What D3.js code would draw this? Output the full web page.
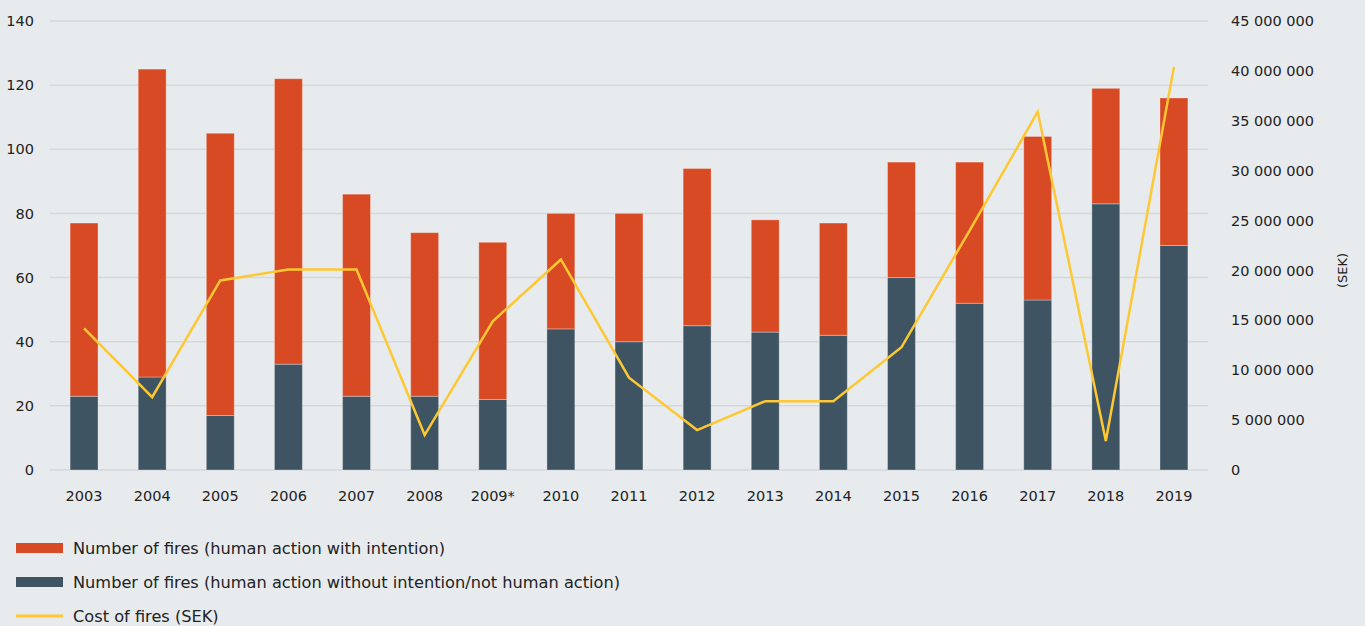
<!DOCTYPE html>
<html>
<head>
<meta charset="utf-8">
<script src="https://cdn.jsdelivr.net/npm/d3@7"></script>
<style>
  html, body { margin: 0; padding: 0; background: #e8ebee; }
  svg { display: block; font-family: "DejaVu Sans", sans-serif; }
</style>
</head>
<body>
<svg id="chart" width="1365" height="626"></svg>
<script>
// Fire statistics 2003–2019
const years = ["2003","2004","2005","2006","2007","2008","2009*","2010","2011","2012","2013","2014","2015","2016","2017","2018","2019"];
// Fires caused without intention or not by human action
const unintentional = [23, 29, 17, 33, 23, 23, 22, 44, 40, 45, 43, 42, 60, 52, 53, 83, 70];
// Fires caused by human action with intention
const intentional = [54, 96, 88, 89, 63, 51, 49, 36, 40, 49, 35, 35, 36, 44, 51, 36, 46];
// Cost of fires, SEK
const cost = [14200000, 7300000, 19000000, 20100000, 20100000, 3500000, 14900000, 21100000, 9250000, 4000000, 6900000, 6900000, 12300000, 24000000, 35900000, 2900000, 40400000];

const leftTicks = [0, 20, 40, 60, 80, 100, 120, 140];
const rightTicks = [0, 5e6, 10e6, 15e6, 20e6, 25e6, 30e6, 35e6, 40e6, 45e6];
const legendLabels = [
  "Number of fires (human action with intention)",
  "Number of fires (human action without intention/not human action)",
  "Cost of fires (SEK)"
];

const colors = { intentional: "#d84a23", unintentional: "#3f5463", cost: "#fdc832", grid: "#d4d8dc", text: "#222" };
const tickFont = 14.5;

const svg = d3.select("#chart");
const plot = { left: 50, right: 1208, top: 21, bottom: 470 };

const x = d3.scaleBand().domain(years).range([plot.left, plot.right]).paddingInner(0.59).paddingOuter(0.295);
const y = d3.scaleLinear().domain([0, 140]).range([plot.bottom, plot.top]);
const y2 = d3.scaleLinear().domain([0, 45e6]).range([plot.bottom, plot.top]);

// Horizontal gridlines
svg.append("g").selectAll("line").data(leftTicks).join("line")
  .attr("x1", plot.left).attr("x2", plot.right)
  .attr("y1", d => y(d)).attr("y2", d => y(d))
  .attr("stroke", colors.grid).attr("stroke-width", 1.5);

function styleAxis(g) {
  g.select(".domain").remove();
  g.selectAll("text").attr("font-size", tickFont).attr("fill", colors.text)
    .attr("font-family", "DejaVu Sans");
}

// Left axis
svg.append("g").attr("transform", `translate(${plot.left - 16},0)`)
  .call(d3.axisLeft(y).tickValues(leftTicks).tickSize(0).tickPadding(0))
  .call(styleAxis);

// Right axis
const spaced = d => d3.format(",")(d).replace(/,/g, " ");
svg.append("g").attr("transform", `translate(${plot.right + 23},0)`)
  .call(d3.axisRight(y2).tickValues(rightTicks).tickFormat(spaced).tickSize(0).tickPadding(0))
  .call(styleAxis);

// Bottom axis labels
svg.append("g").attr("transform", `translate(0,${plot.bottom + 21})`)
  .call(d3.axisBottom(x).tickSize(0).tickPadding(0))
  .call(styleAxis);

// Axis title on the right
svg.append("text")
  .attr("transform", `translate(1347,${(plot.top + plot.bottom) / 2 + 25}) rotate(-90)`)
  .attr("text-anchor", "middle").attr("font-size", 13).attr("fill", colors.text)
  .text("(SEK)");

// Stacked bars
const stacked = d3.stack().keys(["unintentional", "intentional"])(
  years.map((yr, i) => ({ year: yr, unintentional: unintentional[i], intentional: intentional[i] }))
);
svg.append("g").selectAll("g").data(stacked).join("g")
  .attr("fill", d => colors[d.key])
  .selectAll("rect").data(d => d).join("rect")
  .attr("x", d => x(d.data.year))
  .attr("width", x.bandwidth())
  .attr("y", d => y(d[1]))
  .attr("height", d => y(d[0]) - y(d[1]))
  .attr("stroke", "rgba(255,255,255,0.3)").attr("stroke-width", 1);

// Cost line
const line = d3.line()
  .x((d, i) => x(years[i]) + x.bandwidth() / 2)
  .y(d => y2(d));
svg.append("path").datum(cost)
  .attr("d", line).attr("fill", "none")
  .attr("stroke", colors.cost).attr("stroke-width", 2.5).attr("stroke-linejoin", "miter");

// Legend
const legend = svg.append("g").attr("transform", "translate(16,548)");
const rows = legend.selectAll("g").data(legendLabels).join("g")
  .attr("transform", (d, i) => `translate(0,${i * 34})`);
rows.each(function(d, i) {
  const g = d3.select(this);
  if (i < 2) {
    g.append("rect").attr("x", 0).attr("y", -5).attr("width", 47).attr("height", 10)
      .attr("fill", i === 0 ? colors.intentional : colors.unintentional);
  } else {
    g.append("rect").attr("x", 0).attr("y", -1.5).attr("width", 47).attr("height", 3)
      .attr("fill", colors.cost);
  }
  g.append("text").attr("x", 57).attr("dy", "0.35em").attr("font-size", 16.2)
    .attr("fill", colors.text).text(d);
});
</script>
</body>
</html>
